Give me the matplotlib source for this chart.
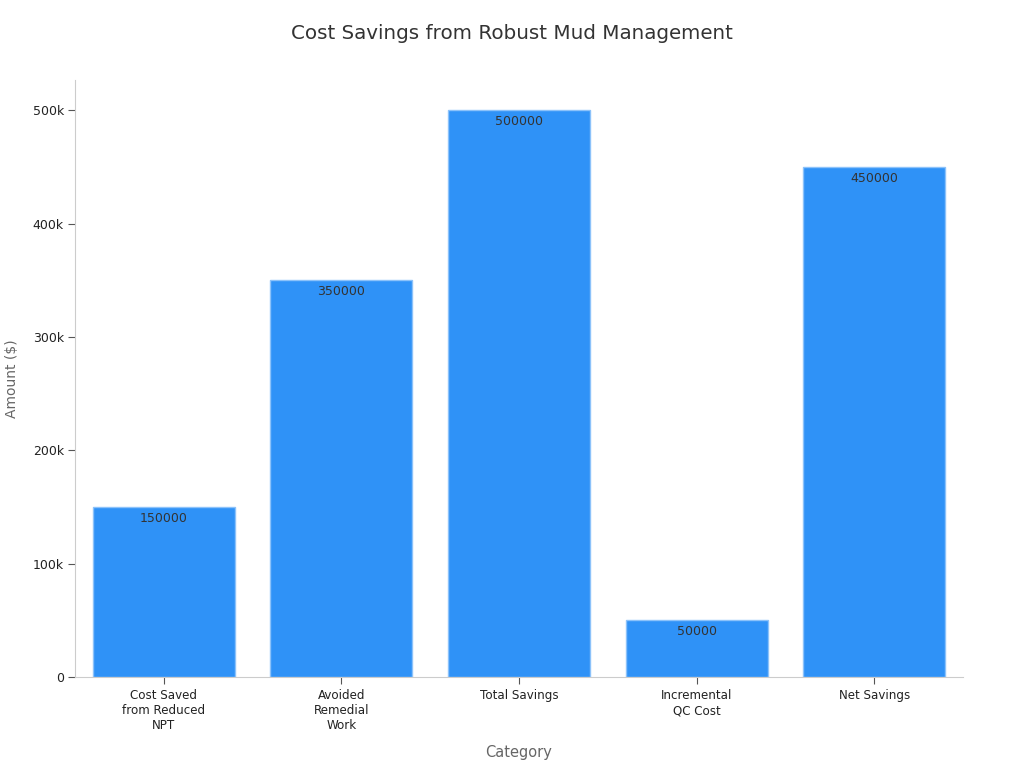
import matplotlib.pyplot as plt
from matplotlib.ticker import FuncFormatter

categories = ["Cost Saved\nfrom Reduced\nNPT", "Avoided\nRemedial\nWork", "Total Savings",
              "Incremental\nQC Cost", "Net Savings"]
amounts = [150000, 350000, 500000, 50000, 450000]

fig = plt.figure(figsize=(10.24, 7.68), dpi=100)
ax = fig.add_axes([0.0732, 0.1185, 0.8672, 0.7775])

x = range(len(categories))
bars = ax.bar(x, amounts, width=0.8, color="#2f92f7", edgecolor="#8cc2fa", linewidth=1)
for b, v in zip(bars, amounts):
    ax.text(b.get_x() + b.get_width() / 2, v - 4000, str(v), ha="center", va="top",
            fontsize=9, color="#333333")

ax.set_xlim(-0.5, 4.5)
ax.set_ylim(0, 527000)
ax.set_xticks(list(x))
ax.set_xticklabels(categories, fontsize=8.6, color="#222222")
ax.set_yticks([0, 100000, 200000, 300000, 400000, 500000])
ax.yaxis.set_major_formatter(FuncFormatter(lambda v, p: "0" if v == 0 else f"{int(v/1000)}k"))
ax.tick_params(axis="y", labelsize=9, labelcolor="#222222", color="#555555", length=5, pad=3)
ax.tick_params(axis="x", color="#555555", length=5, pad=4)

for s in ["top", "right"]:
    ax.spines[s].set_visible(False)
for s in ["left", "bottom"]:
    ax.spines[s].set_color("#cccccc")

ax.set_xlabel("Category", fontsize=10.5, color="#666666", labelpad=9)
ax.set_ylabel("Amount ($)", fontsize=10, color="#666666", labelpad=10)
fig.text(0.5, 0.957, "Cost Savings from Robust Mud Management", ha="center", va="center",
         fontsize=14.3, color="#333333")

fig.savefig("out.png", dpi=100)
